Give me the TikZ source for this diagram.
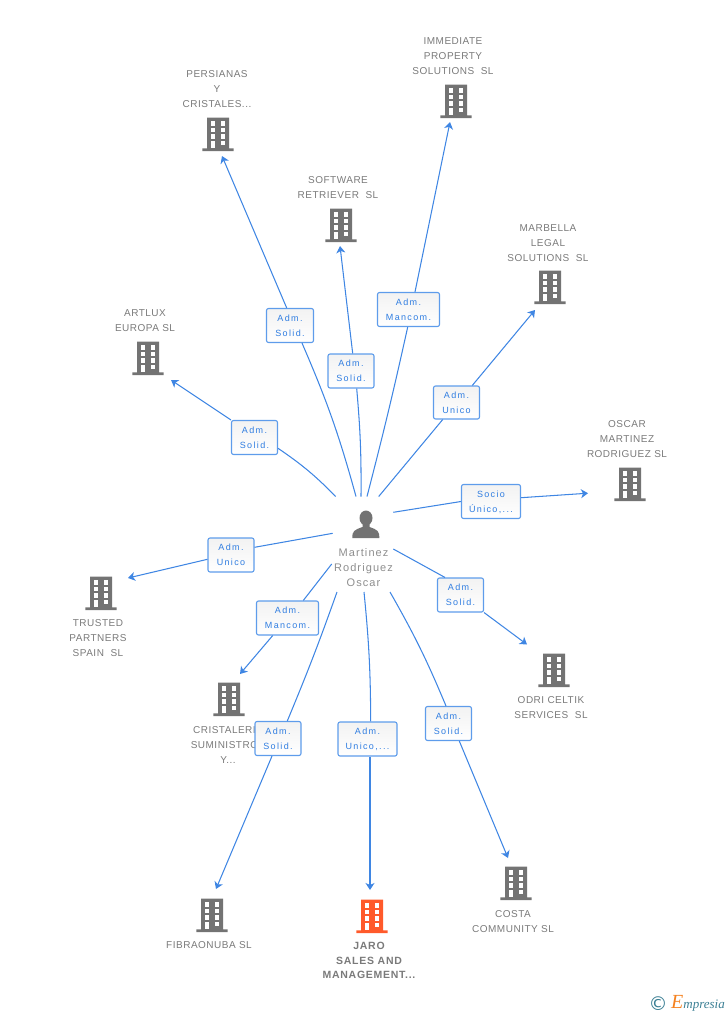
\documentclass[tikz,border=0pt]{standalone}
\usepackage{fontspec}
\setmainfont[LetterSpace=5]{Liberation Sans}
\newfontfamily\boxfont[LetterSpace=15]{Liberation Sans}
\newfontfamily\personfont[LetterSpace=10]{Liberation Sans}
\newfontfamily\jarofont[LetterSpace=7]{Liberation Sans}
\newfontfamily\logofont{Liberation Serif}
\usetikzlibrary{arrows.meta, positioning}
\definecolor{linkblue}{HTML}{3F86E3}
\definecolor{edgeblue}{HTML}{5E9CEB}
\definecolor{textblue}{HTML}{2F7DE1}
\definecolor{bldggray}{HTML}{737373}
\definecolor{bldgorange}{HTML}{FF5A2B}
\definecolor{labelgray}{HTML}{7A7A7A}
\definecolor{logoteal}{HTML}{3B7F94}
\definecolor{logoorange}{HTML}{F58220}
\tikzset{
    link/.style={draw=linkblue, line width=1.05pt},
    linkend/.style={link, -{Stealth[length=7pt,width=9pt,inset=2pt]}},
    role/.style={draw=edgeblue, line width=1.1pt, rounded corners=2pt, top color=black!5, bottom color=white,
        align=center, font=\boxfont\fontsize{9}{15}\selectfont, text=textblue, inner sep=0pt, text depth=0pt},
    company/.style={align=center, font=\fontsize{10}{15}\selectfont, text=labelgray, inner sep=0pt, yshift=-0.8pt},
    building/.pic={
        \fill (-11,-33.5) rectangle (11,-2) (-15.7,-2.6) rectangle (15.7,0);
        \fill[white] (-7,-10.3) rectangle (-2.7,-2.6);
        \foreach \wy in {-30,-23.3,-16.7} {
            \fill[white] (-7.3,\wy) rectangle (-2.7,\wy+4.6);
            \fill[white] (2.7,\wy) rectangle (7.3,\wy+4.6);
        }
        \fill[white] (2.7,-10.3) rectangle (7.3,-5.7);
    }
}
\begin{document}
\begin{tikzpicture}[x=1pt,y=-1pt]
    \useasboundingbox (0,0) rectangle (728,1015);

    % Edifici
    \foreach \bx/\by in {218/151,456/118,341/242,550/304,148/375,630/501,101/610,554/687,229/716,212/932,516/900}
    \pic[fill=bldggray] at (\bx,\by) {building};
    \pic[fill=bldgorange] at (372,933) {building};

    % Persona
    \fill[bldggray] (366,518) ellipse (6.5 and 7.5);
    \fill[bldggray] (352.3,538) .. controls (352.3,531) and (354,530) .. (362.5,527) -- (362.5,521) -- (369.5,521) -- (369.5,527)
        .. controls (378,530) and (379.3,531) .. (379.3,538) -- cycle;
    \node[align=center, font=\personfont\fontsize{11}{15}\selectfont, text=labelgray!85, inner sep=0pt] (oscar) at (363.5,568) {Martinez\\Rodriguez\\Oscar};

    % Etichette aziende
    \node[company] (persianas) at (217,88) {PERSIANAS\\Y\\CRISTALES...};
    \node[company] (immediate) at (453,55) {IMMEDIATE\\PROPERTY\\SOLUTIONS~~SL};
    \node[company] (software) at (338,186.5) {SOFTWARE\\RETRIEVER~~SL};
    \node[company] (marbella) at (548,242) {MARBELLA\\LEGAL\\SOLUTIONS~~SL};
    \node[company] (artlux) at (145,319.5) {ARTLUX\\EUROPA SL};
    \node[company] (martinez) at (627,438) {OSCAR\\MARTINEZ\\RODRIGUEZ SL};
    \node[company] (trusted) at (98,637) {TRUSTED\\PARTNERS\\SPAIN~~SL};
    \node[company] (odri) at (551,706.5) {ODRI CELTIK\\SERVICES~~SL};
    \node[company] (cristaleria) at (228,744) {CRISTALERIA\\SUMINISTROS\\Y...};
    \node[company] (fibraonuba) at (209,944) {FIBRAONUBA SL};
    \node[company, font=\jarofont\bfseries\fontsize{10.5}{14.5}\selectfont] (jaro) at (369,960) {JARO\\SALES AND\\MANAGEMENT...};
    \node[company] (costa) at (513,920.5) {COSTA\\COMMUNITY SL};

    % Estremi liberi
    \coordinate (p1) at (356,496.5);   \coordinate (e1) at (222,156);
    \coordinate (p2) at (361,496.5);   \coordinate (e2) at (340,246);
    \coordinate (p3) at (367,496.5);   \coordinate (e3) at (450,122);
    \coordinate (p4) at (378.7,496.5); \coordinate (e4) at (535,310);
    \coordinate (p5) at (335.7,496.5); \coordinate (e5) at (171,380);
    \coordinate (p6) at (393.3,512.3); \coordinate (e6) at (588,493.2);
    \coordinate (p7) at (332.7,533.3); \coordinate (e7) at (128,578);
    \coordinate (p8) at (331.7,564);   \coordinate (e8) at (240,674);
    \coordinate (p9) at (337,592);     \coordinate (e9) at (216,889);
    \coordinate (p10) at (364,592);    \coordinate (e10) at (370,890);
    \coordinate (p11) at (390,592);    \coordinate (e11) at (508,858);
    \coordinate (p12) at (393.3,549);  \coordinate (e12) at (527,644.5);

    % Ruoli
    \node[role, minimum width=47pt, minimum height=34pt] (r1) at (290,325.5) {Adm.\\Solid.};
    \node[role, minimum width=46pt, minimum height=34pt] (r2) at (351,371) {Adm.\\Solid.};
    \node[role, minimum width=62pt, minimum height=34pt] (r3) at (408.5,309.5) {Adm.\\Mancom.};
    \node[role, minimum width=46pt, minimum height=33pt] (r4) at (456.5,402.5) {Adm.\\Unico};
    \node[role, minimum width=46pt, minimum height=34pt] (r5) at (254.5,437.5) {Adm.\\Solid.};
    \node[role, minimum width=59pt, minimum height=34pt] (r6) at (491,501.5) {Socio\\Único,...};
    \node[role, minimum width=46pt, minimum height=34pt] (r7) at (231,555) {Adm.\\Unico};
    \node[role, minimum width=62pt, minimum height=34pt] (r8) at (287.5,618) {Adm.\\Mancom.};
    \node[role, minimum width=46pt, minimum height=34pt] (r9) at (278,738.5) {Adm.\\Solid.};
    \node[role, minimum width=59pt, minimum height=34pt] (r10) at (367.5,739) {Adm.\\Unico,...};
    \node[role, minimum width=46pt, minimum height=34pt] (r11) at (448.5,723.5) {Adm.\\Solid.};
    \node[role, minimum width=46pt, minimum height=34pt] (r12) at (460.5,595) {Adm.\\Solid.};

    % Collegamenti
    \draw[link] (p1) to[bend right=4] ([xshift=12pt]r1.south);
    \draw[linkend] ([xshift=-3.3pt]r1.north) -- (e1);
    \draw[link] (p2) to[bend right=2.7] ([xshift=5.7pt]r2.south);
    \draw[linkend] ([xshift=1.7pt]r2.north) -- (e2);
    \draw[link] (p3) to[bend right=1] ([xshift=-0.8pt]r3.south);
    \draw[linkend] ([xshift=6.5pt]r3.north) -- (e3);
    \draw[link] (p4) -- ([xshift=-13.8pt]r4.south);
    \draw[linkend] ([xshift=15.8pt]r4.north) -- (e4);
    \draw[link] (p5) to[bend right=5.6] ([yshift=-10.8pt]r5.east);
    \draw[linkend] (r5.north west) -- (e5);
    \draw[link] (p6) -- (r6.west);
    \draw[linkend] ([yshift=3.8pt]r6.east) -- (e6);
    \draw[link] (p7) -- ([yshift=7.7pt]r7.east);
    \draw[linkend] ([yshift=-4.3pt]r7.west) -- (e7);
    \draw[link] (p8) -- ([xshift=15.8pt]r8.north);
    \draw[linkend] ([xshift=-14.8pt]r8.south) -- (e8);
    \draw[link] (p9) to[bend left=1.5] ([xshift=9.3pt]r9.north);
    \draw[linkend] ([xshift=-6pt]r9.south) -- (e9);
    \draw[link] (p10) to[bend left=2.7] ([xshift=3.2pt]r10.north);
    \draw[linkend] ([xshift=2.5pt]r10.south) -- (e10);
    \draw[link] (p11) to[bend left=3.5] ([xshift=-2.5pt]r11.north);
    \draw[linkend] ([xshift=10.8pt]r11.south) -- (e11);
    \draw[link] (p12) -- ([xshift=-15.5pt]r12.north);
    \draw[linkend] (r12.south east) -- (e12);

    % Logo
    \node[font=\fontspec{DejaVu Sans}\fontsize{19}{19}\selectfont, text=logoteal, inner sep=0pt] (copyr) at (658,1004) {©};
    \node[font=\logofont\itshape\fontsize{13}{13}\selectfont, text=logoteal, inner sep=0pt, anchor=base east] (brand) at (725,1008) {{\color{logoorange}\fontsize{20}{20}\selectfont E}mpresia};
\end{tikzpicture}
\end{document}
